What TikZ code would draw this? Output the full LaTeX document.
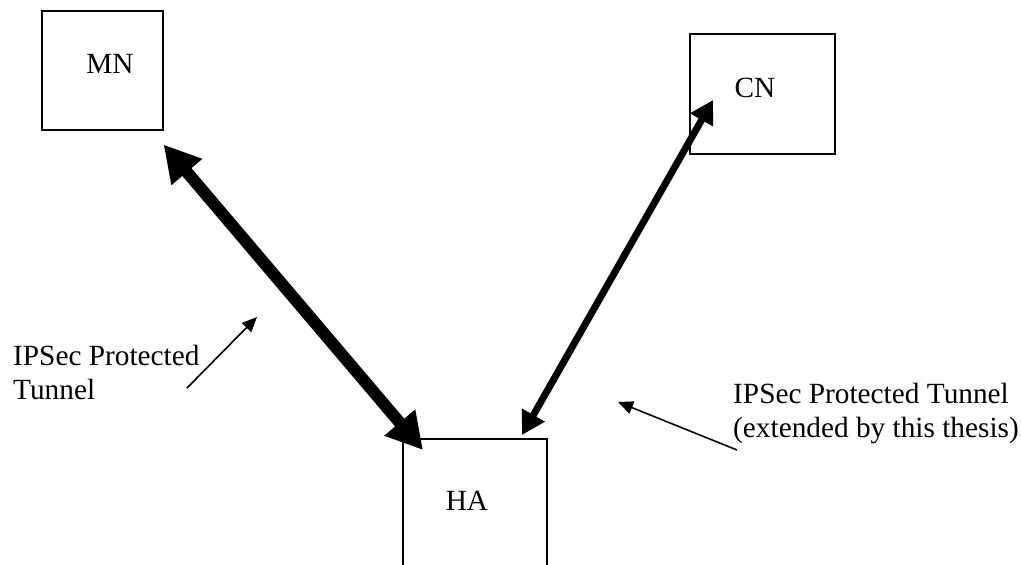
\documentclass[tikz,border=0pt]{standalone}
\usepackage{fontspec}
\setmainfont{Liberation Serif}
\usetikzlibrary{arrows.meta,calc}
\begin{document}
\begin{tikzpicture}[x=1pt,y=-1pt,
  every node/.style={font=\fontsize{29.3}{34}\selectfont},
  hostbox/.style={draw,line width=1.6pt,inner sep=0pt,anchor=north west},
  label/.style={inner sep=0pt,anchor=base},
  note/.style={inner sep=0pt,anchor=base west,align=left},
  bigtunnel/.style={line width=12pt,{Triangle[length=36pt,width=38pt]}-{Triangle[length=36pt,width=38pt]}},
  newtunnel/.style={line width=7pt,{Triangle[length=23pt,width=25pt]}-{Triangle[length=23pt,width=25pt]}},
  pointer/.style={line width=1.6pt,-{Triangle[length=15pt,width=13pt]}}]
  \useasboundingbox (0,0) rectangle (1021,565);
  \clip (0,0) rectangle (1021,565);

  % hosts
  \node[hostbox,minimum width=121pt,minimum height=119pt] (mnbox) at (41,10) {};
  \node[hostbox,minimum width=145pt,minimum height=120pt] (cnbox) at (689,33) {};
  \node[hostbox,minimum width=144pt,minimum height=200pt] (habox) at (402,438) {};
  \node[label] (mn) at (110,73) {MN};
  \node[label] (cn) at (755,97) {CN};
  \node[label] (ha) at (467,510) {HA};

  % tunnel end points
  \coordinate (mnend) at ($(mnbox.south east)+(0,14)$);
  \coordinate (hamn) at ($(habox.north west)+(21,12)$);
  \coordinate (cnend) at ($(cnbox.north west)+(24,67)$);
  \coordinate (hacn) at ($(habox.north west)+(120,-3)$);

  \draw[bigtunnel] (mnend) -- (hamn);
  \draw[newtunnel] (cnend) -- (hacn);

  % annotations
  \node[note] (lnote) at (13,399) {IPSec Protected\\Tunnel};
  \node[note] (rnote) at (733,437) {IPSec Protected Tunnel\\(extended by this thesis)};
  \coordinate (lfrom) at (187,388);
  \coordinate (lto) at (257,317);
  \coordinate (rfrom) at (737,450);
  \coordinate (rto) at (618,402);
  \draw[pointer] (lfrom) -- (lto);
  \draw[pointer] (rfrom) -- (rto);
\end{tikzpicture}
\end{document}
